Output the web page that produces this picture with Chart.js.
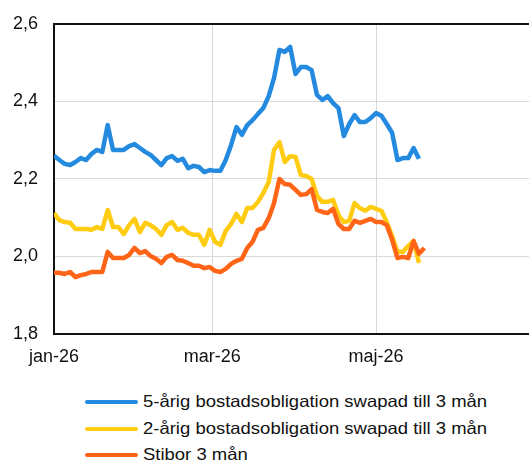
<!DOCTYPE html>
<html>
<head>
<meta charset="utf-8">
<script src="https://cdn.jsdelivr.net/npm/chart.js@4.4.1/dist/chart.umd.min.js"></script>
<style>
  body { margin: 0; background: #fff; font-family: "Liberation Sans", Arial, sans-serif; }
  #wrap { position: relative; width: 529px; height: 462px; }
  #box { position: absolute; left: 0; top: 0; width: 529px; height: 372px; }
  .leg { position: absolute; left: 85px; height: 27px; white-space: nowrap; }
  .leg i { position: absolute; left: 0; top: 11px; width: 53px; height: 4px; border-radius: 2px; }
  .leg span { position: absolute; left: 58px; top: 3px; font-size: 16.5px; color: #111;
              transform: scaleX(1.12); transform-origin: left center; }
</style>
</head>
<body>
<div id="wrap">
  <div id="box"><canvas id="chart1"></canvas></div>
  <div id="legend"></div>
</div>
<script>
// days from 1 jan 2026
var days = [0, 2, 4, 6, 8, 10, 12, 14, 16, 18, 20, 22, 24, 26, 28, 30, 32, 34, 36, 38,
    40, 42, 44, 46, 48, 50, 52, 54, 56, 58, 60, 62, 64, 66, 68, 70, 72, 74, 76, 78,
    80, 82, 84, 86, 88, 90, 92, 94, 96, 98, 100, 102, 104, 106, 108, 110, 112, 114, 116, 118,
    120, 122, 124, 126, 128, 130, 132, 134, 136, 138];

var bostad5 = [2.26, 2.249, 2.239, 2.236, 2.244, 2.254, 2.249, 2.265, 2.275, 2.27,
    2.339, 2.275, 2.275, 2.275, 2.285, 2.29, 2.28, 2.27, 2.262, 2.249,
    2.236, 2.254, 2.259, 2.247, 2.252, 2.228, 2.234, 2.231, 2.218, 2.223,
    2.221, 2.221, 2.249, 2.288, 2.334, 2.314, 2.339, 2.352, 2.368, 2.383,
    2.414, 2.461, 2.533, 2.528, 2.541, 2.471, 2.489, 2.489, 2.481, 2.417,
    2.404, 2.414, 2.396, 2.383, 2.311, 2.342, 2.365, 2.347, 2.347, 2.357,
    2.37, 2.363, 2.342, 2.319, 2.249, 2.254, 2.254, 2.28, 2.252, null];

var bostad2 = [2.112, 2.094, 2.089, 2.087, 2.071, 2.071, 2.071, 2.069, 2.076, 2.071,
    2.12, 2.076, 2.076, 2.058, 2.081, 2.097, 2.063, 2.087, 2.081, 2.071,
    2.056, 2.081, 2.089, 2.069, 2.074, 2.061, 2.056, 2.056, 2.03, 2.069,
    2.038, 2.03, 2.066, 2.084, 2.11, 2.089, 2.125, 2.125, 2.141, 2.164,
    2.192, 2.275, 2.295, 2.244, 2.259, 2.257, 2.21, 2.208, 2.2, 2.156,
    2.141, 2.141, 2.146, 2.107, 2.089, 2.092, 2.138, 2.125, 2.118, 2.128,
    2.123, 2.118, 2.089, 2.053, 2.012, 2.012, 2.027, 2.04, 1.983, null];

var stibor = [1.958, 1.958, 1.955, 1.96, 1.947, 1.952, 1.955, 1.96, 1.96, 1.96,
    2.012, 1.996, 1.996, 1.996, 2.004, 2.022, 2.009, 2.014, 2.001, 1.994,
    1.983, 1.999, 2.004, 1.991, 1.989, 1.983, 1.976, 1.976, 1.97, 1.973,
    1.963, 1.96, 1.968, 1.981, 1.989, 1.994, 2.022, 2.038, 2.069, 2.074,
    2.099, 2.138, 2.2, 2.187, 2.185, 2.172, 2.159, 2.161, 2.174, 2.12,
    2.115, 2.112, 2.123, 2.084, 2.071, 2.071, 2.092, 2.087, 2.092, 2.097,
    2.089, 2.089, 2.081, 2.043, 1.996, 1.999, 1.996, 2.04, 2.007, 2.022];

var seriesNames = ["5-årig bostadsobligation swapad till 3 mån",
    "2-årig bostadsobligation swapad till 3 mån",
    "Stibor 3 mån"];
var seriesColors = ['#238ae0', '#ffcc11', '#ff6417'];

var tickDays = [0, 59, 120];
var tickLabels = ["jan-26", "mar-26", "maj-26"];

function pts(arr) {
    return days.map(function(d, i) { return {x: d, y: arr[i]}; });
}

var values = [bostad5, bostad2, stibor];
var datasets = values.map(function(arr, i) {
    return {
        label: seriesNames[i],
        data: pts(arr),
        borderColor: seriesColors[i],
        backgroundColor: seriesColors[i],
        borderWidth: 4.5,
        borderJoinStyle: 'round',
        pointRadius: 0,
        tension: 0,
        order: 3 - i
    };
});

var ctx = document.getElementById('chart1').getContext('2d');
var chart = new Chart(ctx, {
    type: 'line',
    data: { datasets: datasets },
    options: {
        responsive: true,
        maintainAspectRatio: false,
        animation: false,
        layout: { padding: { top: 24, right: 0, bottom: 0, left: 0 } },
        plugins: { legend: { display: false }, tooltip: { enabled: false } },
        scales: {
            x: {
                type: 'linear',
                min: 0,
                max: 177,
                afterFit: function(s) { s.height = 38; },
                afterBuildTicks: function(s) {
                    s.ticks = tickDays.map(function(v) { return {value: v}; });
                },
                ticks: {
                    padding: 12,
                    maxRotation: 0,
                    autoSkip: false,
                    color: '#111',
                    font: { family: 'Liberation Sans', size: 18 },
                    callback: function(v) { return tickLabels[tickDays.indexOf(v)]; }
                },
                grid: { color: '#d9d9d9', lineWidth: 1, drawTicks: false },
                border: { color: '#111', width: 2 }
            },
            y: {
                min: 1.8,
                max: 2.6,
                afterFit: function(s) { s.width = 54; s.paddingTop = 0; s.paddingBottom = 0; },
                ticks: {
                    stepSize: 0.2,
                    padding: 16,
                    color: '#111',
                    font: { family: 'Liberation Sans', size: 18 },
                    callback: function(v) { return v.toFixed(1).replace('.', ','); }
                },
                grid: {
                    drawTicks: false,
                    color: function(c) { return c.tick && Math.abs(c.tick.value - 2.6) < 1e-6 ? '#111' : '#d9d9d9'; },
                    lineWidth: function(c) { return c.tick && Math.abs(c.tick.value - 2.6) < 1e-6 ? 2 : 1; }
                },
                border: { color: '#111', width: 2 }
            }
        }
    }
});

// legend
var leg = document.getElementById('legend');
var rowTops = [389, 416, 442];
seriesNames.forEach(function(name, i) {
    var row = document.createElement('div');
    row.className = 'leg';
    row.style.top = rowTops[i] + 'px';
    row.innerHTML = '<i style="background:' + seriesColors[i] + '"></i><span>' + name + '</span>';
    leg.appendChild(row);
});
</script>
</body>
</html>
